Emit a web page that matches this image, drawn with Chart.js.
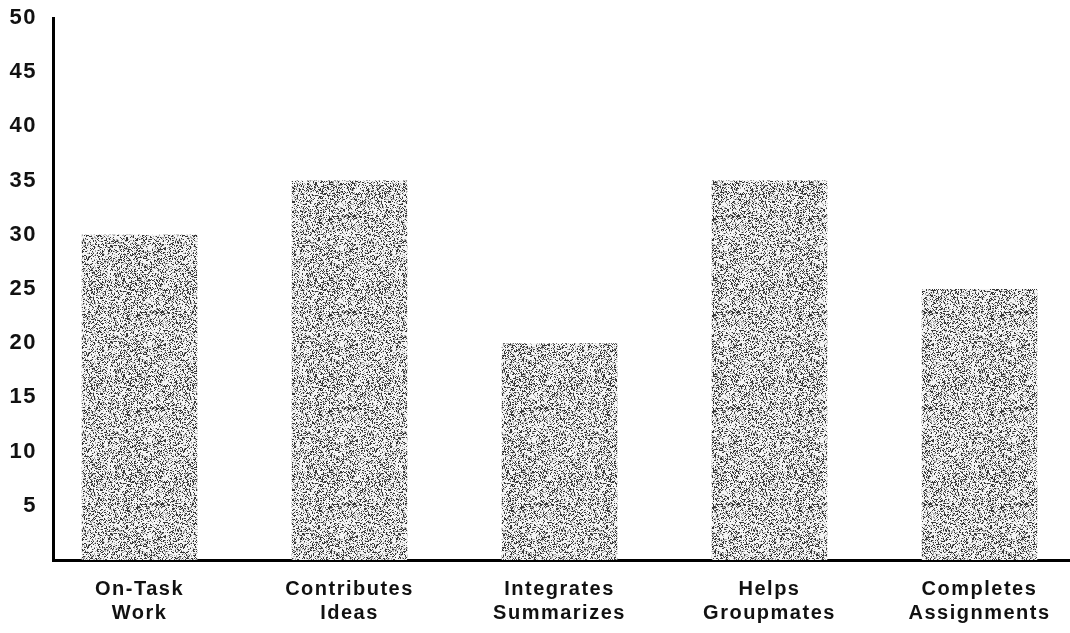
<!DOCTYPE html>
<html>
<head>
<meta charset="utf-8">
<title>Group behaviours</title>
<script src="https://cdn.jsdelivr.net/npm/chart.js@4/dist/chart.umd.min.js"></script>
<style>
  html, body { margin: 0; padding: 0; background: #fff; }
  #wrap { width: 1070px; height: 633px; }
</style>
</head>
<body>
<div id="wrap"><canvas id="chart" width="1070" height="633"></canvas></div>
<script>
// Behaviour categories (two-line axis labels) and observed counts
const categories = [
  ['On-Task', 'Work'],
  ['Contributes', 'Ideas'],
  ['Integrates', 'Summarizes'],
  ['Helps', 'Groupmates'],
  ['Completes', 'Assignments']
];
const counts = [30, 35, 20, 35, 25];
const yTickValues = [5, 10, 15, 20, 25, 30, 35, 40, 45, 50];

// Stippled grey fill for the bars, built from a deterministic dot texture
function makeStipple() {
  const size = 96;
  const c = document.createElement('canvas');
  c.width = size; c.height = size;
  const g = c.getContext('2d');
  const img = g.createImageData(size, size);
  for (let y = 0; y < size; y++) {
    for (let x = 0; x < size; x++) {
      let h = (x * 374761393 + y * 668265263) >>> 0;
      h = ((h ^ (h >>> 13)) * 1274126177) >>> 0;
      h = (h ^ (h >>> 16)) >>> 0;
      const r = (h % 1000) / 1000;
      const diag = ((x + y) % 7 < 2 || (x - y + 700) % 9 < 2) ? 0.1 : 0;
      let v;
      if (r < 0.2 + diag) v = 55;
      else if (r < 0.36 + diag) v = 170;
      else v = 244;
      const i = (y * size + x) * 4;
      img.data[i] = v; img.data[i + 1] = v; img.data[i + 2] = v; img.data[i + 3] = 255;
    }
  }
  g.putImageData(img, 0, 0);
  return g.createPattern(c, 'repeat');
}

const ctx = document.getElementById('chart').getContext('2d');
const stipple = makeStipple();

// Slightly widened lettering for the axis text
const spacing = {
  id: 'spacing',
  beforeUpdate(chart) { chart.ctx.letterSpacing = '1.5px'; },
  beforeDraw(chart) { chart.ctx.letterSpacing = '1.5px'; }
};

const font = 'Liberation Sans, Arial, sans-serif';

new Chart(ctx, {
  type: 'bar',
  data: {
    datasets: [{
      data: counts.map((v, i) => ({ x: i, y: v })),
      backgroundColor: stipple,
      borderWidth: 0,
      categoryPercentage: 1,
      barPercentage: 0.55
    }]
  },
  plugins: [spacing],
  options: {
    responsive: false,
    animation: false,
    layout: { padding: { top: 18, left: 0, right: 0, bottom: 0 } },
    plugins: { legend: { display: false }, tooltip: { enabled: false } },
    scales: {
      x: {
        type: 'linear',
        offset: false,
        min: -0.412,
        max: 4.431,
        afterBuildTicks(scale) { scale.ticks = categories.map((_, i) => ({ value: i })); },
        afterFit(scale) { scale.height = 73; scale.paddingLeft = 0; scale.paddingRight = 0; },
        grid: { display: false, drawTicks: false },
        border: { display: true, color: '#000', width: 3 },
        ticks: {
          color: '#111',
          padding: 17,
          maxRotation: 0,
          autoSkip: false,
          font: { family: font, size: 20, weight: 'bold', lineHeight: 1.2 },
          callback: (v) => categories[v] || ''
        }
      },
      y: {
        min: 0,
        max: 50,
        afterBuildTicks(scale) { scale.ticks = yTickValues.map(v => ({ value: v })); },
        afterFit(scale) { scale.width = 53; scale.paddingTop = 0; scale.paddingBottom = 0; },
        grid: { display: false, drawTicks: false },
        border: { display: true, color: '#000', width: 3 },
        ticks: {
          color: '#111',
          padding: 16,
          font: { family: font, size: 22, weight: 'bold' }
        }
      }
    }
  }
});
</script>
</body>
</html>
